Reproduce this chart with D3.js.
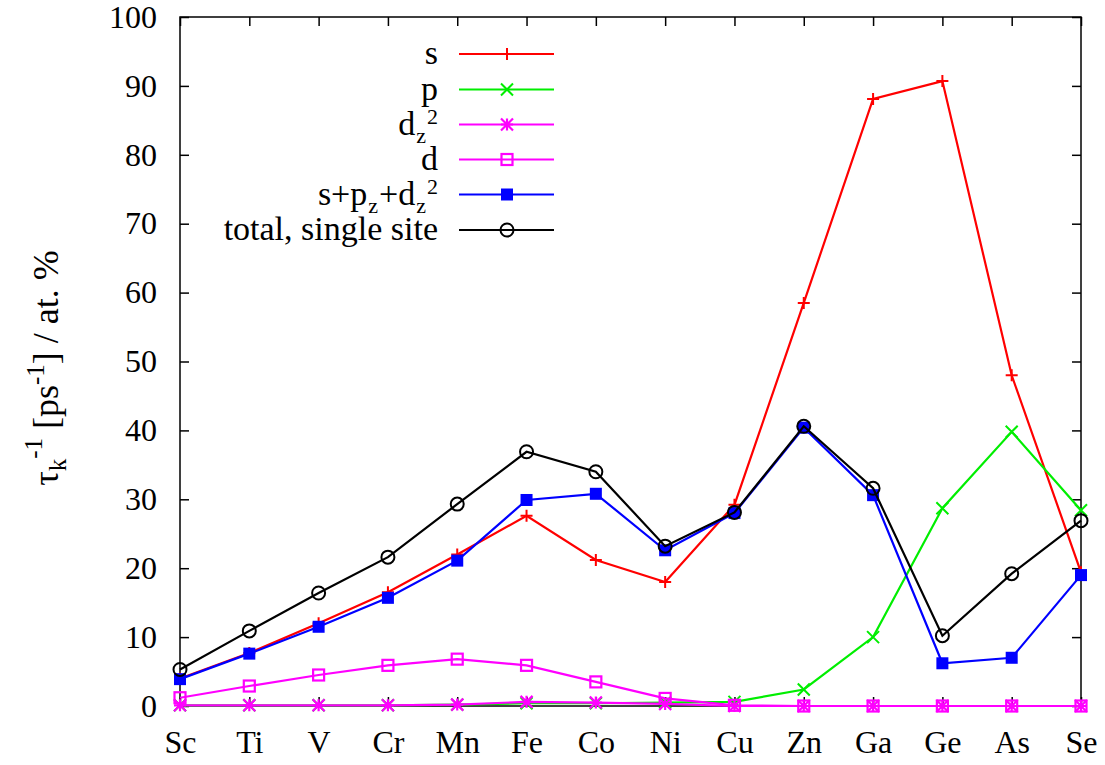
<!DOCTYPE html>
<html>
<head>
<meta charset="utf-8">
<script src="https://cdn.jsdelivr.net/npm/d3@7/dist/d3.min.js"></script>
<style>
  html, body { margin: 0; padding: 0; background: #fff; }
  svg { display: block; }
</style>
</head>
<body>
<svg id="chart" width="1105" height="765"></svg>
<script>
// Elements along the x axis
const elements = ["Sc","Ti","V","Cr","Mn","Fe","Co","Ni","Cu","Zn","Ga","Ge","As","Se"];

// Relaxation rate per at.% for each orbital channel
const sValues     = [4.0, 7.7, 12.0, 16.5, 22.0, 27.6, 21.2, 18.0, 29.2, 58.5, 88.1, 90.7, 48.0, 19.4];
const pValues     = [0.1, 0.1, 0.1, 0.1, 0.2, 0.4, 0.4, 0.5, 0.6, 2.4, 10.0, 28.7, 39.8, 28.4];
const dz2Values   = [0.1, 0.1, 0.1, 0.1, 0.2, 0.6, 0.5, 0.3, 0.0, 0.0, 0.0, 0.0, 0.0, 0.0];
const dValues     = [1.2, 2.9, 4.5, 5.9, 6.8, 5.9, 3.5, 1.1, 0.1, 0.0, 0.0, 0.0, 0.0, 0.0];
const sumValues   = [3.9, 7.6, 11.5, 15.7, 21.1, 29.9, 30.8, 22.6, 28.0, 40.4, 30.6, 6.2, 7.0, 19.0];
const totalValues = [5.3, 10.9, 16.4, 21.6, 29.3, 36.9, 34.0, 23.2, 28.1, 40.6, 31.6, 10.2, 19.2, 26.9];

const yTicks = [0,10,20,30,40,50,60,70,80,90,100];

const FONT = "'Liberation Serif', 'Times New Roman', Times, 'DejaVu Serif', serif";

const series = [
  { key: "s",     values: sValues,     color: "#ff0000", marker: "plus" },
  { key: "p",     values: pValues,     color: "#00ee00", marker: "cross" },
  { key: "dz2",   values: dz2Values,   color: "#ff00ff", marker: "star" },
  { key: "d",     values: dValues,     color: "#ff00ff", marker: "square" },
  { key: "sum",   values: sumValues,   color: "#0000ff", marker: "filledSquare" },
  { key: "total", values: totalValues, color: "#000000", marker: "circle" }
];

const svg = d3.select("#chart").attr("font-family", FONT);
const L = 180, R = 1081, T = 17, B = 706;

const x = d3.scalePoint().domain(elements).range([L, R]);
const y = d3.scaleLinear().domain([0, 100]).range([B, T]);

// Frame
svg.append("rect").attr("x", L).attr("y", T).attr("width", R - L).attr("height", B - T)
  .attr("fill", "none").attr("stroke", "#000").attr("stroke-width", 1.5);

// Inward mirrored ticks
const tickLen = 9;
const axisStyle = g => {
  g.attr("font-family", FONT).attr("font-size", 32);
  g.select(".domain").remove();
  g.selectAll(".tick line").attr("stroke", "#000").attr("stroke-width", 1.5);
  g.selectAll(".tick text").attr("fill", "#000");
};
svg.append("g").attr("transform", `translate(${L},0)`)
  .call(d3.axisLeft(y).tickValues(yTicks).tickSizeInner(-tickLen).tickSizeOuter(0).tickPadding(23))
  .call(axisStyle);
svg.append("g").attr("transform", `translate(${R},0)`)
  .call(d3.axisRight(y).tickValues(yTicks).tickSizeInner(-tickLen).tickSizeOuter(0).tickFormat(""))
  .call(axisStyle);
svg.append("g").attr("transform", `translate(0,${B})`)
  .call(d3.axisBottom(x).tickSizeInner(-tickLen).tickSizeOuter(0).tickPadding(24))
  .call(axisStyle);
svg.append("g").attr("transform", `translate(0,${T})`)
  .call(d3.axisTop(x).tickSizeInner(-tickLen).tickSizeOuter(0).tickFormat(""))
  .call(axisStyle);

// Marker drawing
function drawMarker(g, type, color, cx, cy) {
  const s = 6;
  if (type === "plus") {
    g.append("path").attr("d", `M${cx - s},${cy}H${cx + s}M${cx},${cy - s}V${cy + s}`)
      .attr("stroke", color).attr("stroke-width", 2).attr("fill", "none");
  } else if (type === "cross") {
    g.append("path").attr("d", `M${cx - s},${cy - s}L${cx + s},${cy + s}M${cx - s},${cy + s}L${cx + s},${cy - s}`)
      .attr("stroke", color).attr("stroke-width", 2).attr("fill", "none");
  } else if (type === "star") {
    g.append("path").attr("d", `M${cx - s},${cy}H${cx + s}M${cx},${cy - s}V${cy + s}M${cx - s},${cy - s}L${cx + s},${cy + s}M${cx - s},${cy + s}L${cx + s},${cy - s}`)
      .attr("stroke", color).attr("stroke-width", 2.2).attr("fill", "none");
  } else if (type === "square") {
    g.append("rect").attr("x", cx - 5.5).attr("y", cy - 5.5).attr("width", 11).attr("height", 11)
      .attr("stroke", color).attr("stroke-width", 2.2).attr("fill", "none");
  } else if (type === "filledSquare") {
    g.append("rect").attr("x", cx - 6).attr("y", cy - 6).attr("width", 12).attr("height", 12)
      .attr("fill", color);
  } else if (type === "circle") {
    g.append("circle").attr("cx", cx).attr("cy", cy).attr("r", 6.5)
      .attr("stroke", color).attr("stroke-width", 2).attr("fill", "none");
  }
}

const line = d3.line().x((d, i) => x(elements[i])).y(d => y(d));

series.forEach(sr => {
  const g = svg.append("g");
  g.append("path").datum(sr.values).attr("d", line)
    .attr("fill", "none").attr("stroke", sr.color).attr("stroke-width", 2.2);
  sr.values.forEach((v, i) => drawMarker(g, sr.marker, sr.color, x(elements[i]), y(v)));
});

// Legend
const legendRows = [54, 89.5, 124.5, 159.5, 194.5, 230];
const legendLabels = [
  t => t.text("s"),
  t => t.text("p"),
  t => { t.append("tspan").text("d");
         t.append("tspan").attr("font-size", 22).attr("dx", 1).attr("dy", 8).text("z");
         t.append("tspan").attr("font-size", 22).attr("dx", 1).attr("dy", -19).text("2"); },
  t => t.text("d"),
  t => { t.append("tspan").text("s+p");
         t.append("tspan").attr("font-size", 22).attr("dx", 1).attr("dy", 8).text("z");
         t.append("tspan").attr("dx", 1).attr("dy", -8).text("+d");
         t.append("tspan").attr("font-size", 22).attr("dx", 1).attr("dy", 8).text("z");
         t.append("tspan").attr("font-size", 22).attr("dx", 1).attr("dy", -19).text("2"); },
  t => t.text("total, single site")
];
series.forEach((sr, i) => {
  const ly = legendRows[i];
  const t = svg.append("text").attr("x", 438).attr("y", ly + 10)
    .attr("text-anchor", "end").attr("font-size", 34).attr("fill", "#000");
  legendLabels[i](t);
  const g = svg.append("g");
  g.append("line").attr("x1", 459).attr("x2", 554).attr("y1", ly).attr("y2", ly)
    .attr("stroke", sr.color).attr("stroke-width", 2.2);
  drawMarker(g, sr.marker, sr.color, 507, ly);
});

// Y axis title
const yt = svg.append("text")
  .attr("transform", "translate(58,368) rotate(-90)")
  .attr("text-anchor", "middle").attr("font-size", 36).attr("fill", "#000");
yt.append("tspan").text("τ");
yt.append("tspan").attr("font-size", 25).attr("dy", 8).text("k");
yt.append("tspan").attr("font-size", 25).attr("dy", -24).text("-1");
yt.append("tspan").attr("dy", 16).text(" [ps");
yt.append("tspan").attr("font-size", 25).attr("dy", -14).text("-1");
yt.append("tspan").attr("dy", 14).text("] / at. %");
</script>
</body>
</html>
